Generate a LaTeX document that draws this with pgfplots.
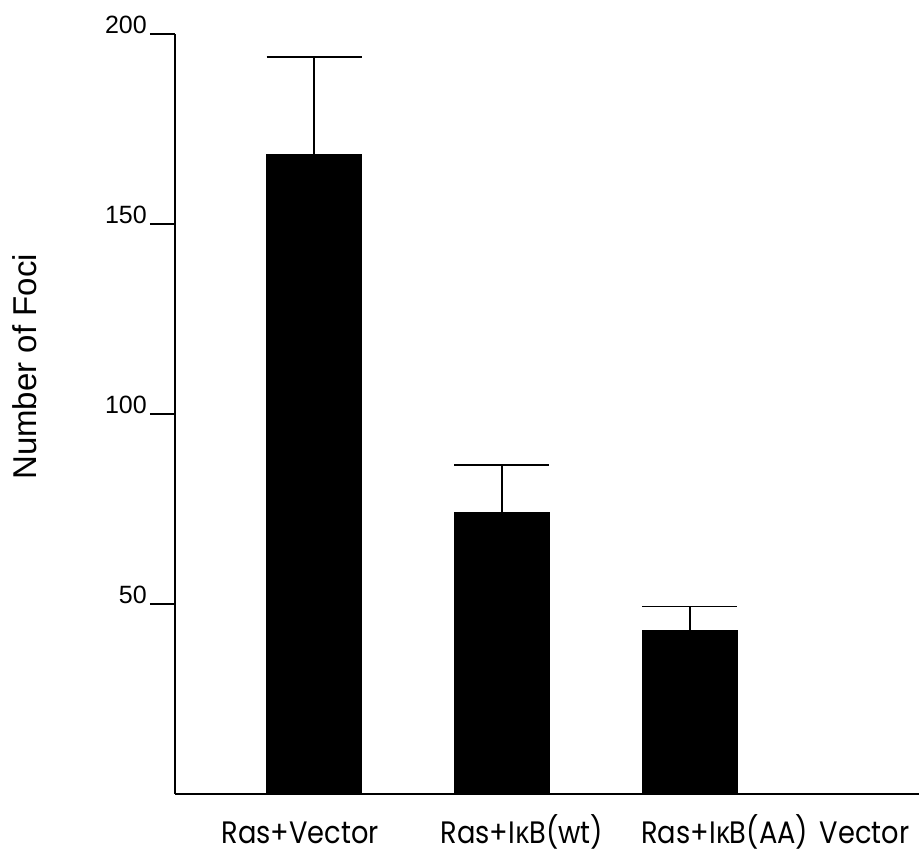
\documentclass[border=0pt]{standalone}
\usepackage{fontspec}
\setmainfont{Poppins}[FakeStretch=0.88]
\newfontfamily\arial{Liberation Sans}
\newfontfamily\grk{Open Sans}[FakeStretch=0.88]
\usepackage{pgfplots}
\usepackage{pgfplotstable}
\pgfplotsset{compat=1.18}

% number of foci per transfection, with the upper error
\pgfplotstableread{
pos value err
0 168.4 25.6
1 74.2 12.4
2 43.0 6.3
3 0 0
}\foci

\begin{document}
\begin{tikzpicture}
\begin{axis}[
  scale only axis, width=744pt, height=760pt,
  xmin=-0.74, xmax=3.22, ymin=0, ymax=200,
  ybar, bar width=95pt,
  axis x line=bottom, axis y line=left,
  axis line style={-, line width=1.7pt, black},
  ytick={50,100,150,200},
  xtick={-0.074,1.106,2.186,2.93},
  xticklabels={Ras+Vector, Ras+I{\grk κ}B(wt), Ras+I{\grk κ}B(AA), Vector},
  x tick style={draw=none},
  y tick style={line width=1.5pt, black},
  tick align=outside, major tick length=25pt,
  /pgf/number format/assume math mode=true,
  yticklabel style={font=\arial\fontsize{25}{29}\selectfont, anchor=base east, inner sep=0pt, xshift=-3pt},
  xticklabel style={font=\fontsize{31}{36}\selectfont, anchor=base, inner sep=0pt, yshift=-25pt},
  ylabel={Number of Foci},
  ylabel style={font=\arial\fontsize{33}{38}\selectfont, at={(axis description cs:-0.1855,0.562)}, anchor=base, inner sep=0pt},
]
\addplot[fill=black, draw=black,
  error bars/.cd, y dir=plus, y explicit,
  error bar style={line width=1.6pt, black},
  error mark options={rotate=90, mark size=47.5pt, line width=1.6pt, black}]
  table[x=pos, y=value, y error=err]{\foci};
\end{axis}
\pgfresetboundingbox
\path (-175pt,-60pt) rectangle (744pt,794pt);
\end{tikzpicture}
\end{document}
